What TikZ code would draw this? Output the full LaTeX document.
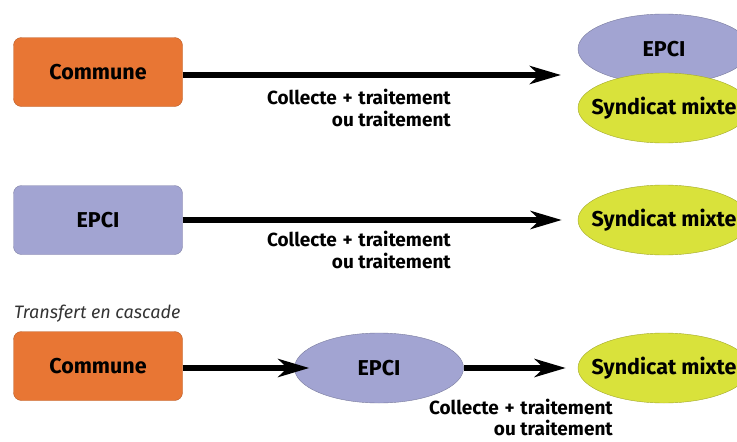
\documentclass[tikz,border=0pt]{standalone}
\usepackage{fontspec}
\setmainfont{Fira Sans}
\usetikzlibrary{shapes.geometric,arrows.meta}
\definecolor{orangebox}{HTML}{E87634}
\definecolor{lilac}{HTML}{A2A4D2}
\definecolor{lime}{HTML}{D9E23B}
\tikzset{
  box/.style={rectangle, rounded corners=8pt, minimum width=169pt, minimum height=69pt, draw=#1!80!black, line width=0.4pt, fill=#1, font=\bfseries\fontsize{21.5}{24}\selectfont},
  oval/.style={ellipse, minimum width=172pt, minimum height=70pt, draw=#1!75!black, line width=0.4pt, fill=#1, inner sep=0pt, font=\bfseries\fontsize{21.5}{24}\selectfont},
  flow/.style={line width=5.5pt, -{Stealth[length=31pt,width=18pt,inset=9pt]}},
  lbl/.style={font=\bfseries\fontsize{19}{22}\selectfont, align=right, anchor=north east, inner sep=0pt}
}
\newcommand{\plusgap}{\hspace{0.3em}+\hspace{0.3em}}
\newcommand{\zw}[1]{\makebox[0pt]{#1}}
\begin{document}
\begin{tikzpicture}[x=1pt,y=-1pt]
\useasboundingbox (0,0) rectangle (737,442);
\clip (0,0) rectangle (737,442);
% Row 1
\node[box=orangebox] (c1) at (98,72) {Commune};
\node[oval=lilac] (e1) at (664,49) {\zw{EPCI}};
\node[oval=lime] (s1) at (664,108) {\zw{Syndicat mixte}};
\coordinate (t1) at (561,75);
\draw[flow] (c1.east |- t1) -- (t1);
\node[lbl] (l1) at (451,89) {Collecte\plusgap traitement\\ou traitement};
% Row 2
\node[box=lilac] (e2) at (98,220) {EPCI};
\node[oval=lime] (s2) at (664,220) {\zw{Syndicat mixte}};
\draw[flow, shorten >=16pt] (e2.east) -- (s2.west);
\node[lbl] (l2) at (451,231) {Collecte\plusgap traitement\\ou traitement};
% Row 3
\node[anchor=south west, inner sep=0pt, font=\itshape\fontsize{18}{20}\selectfont, text=black!80] (tc) at (14,323) {Transfert en cascade};
\node[box=orangebox] (c3) at (98,366) {Commune};
\node[oval=lilac, minimum width=169pt] (e3) at (379,368) {\zw{EPCI}};
\node[oval=lime] (s3) at (664,368) {\zw{Syndicat mixte}};
\draw[flow, shorten >=-15pt] (c3.east |- e3.west) -- (e3.west);
\draw[flow, shorten >=12pt] (e3.east) -- (s3.west);
\node[lbl, font=\bfseries\fontsize{19}{21}\selectfont] (l3) at (613,399) {Collecte\plusgap traitement\\ou traitement};
\end{tikzpicture}
\end{document}
